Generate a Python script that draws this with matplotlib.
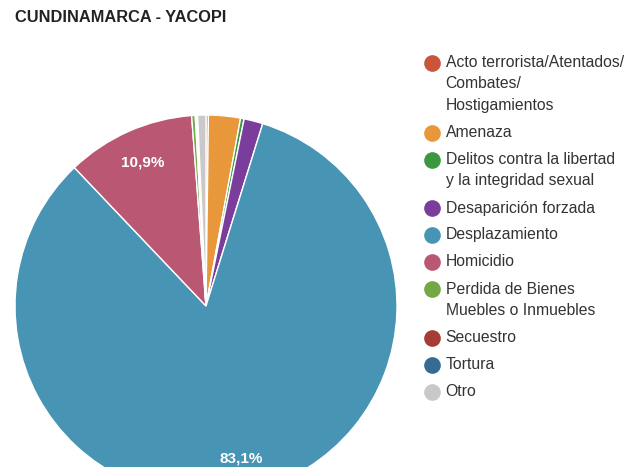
import matplotlib.pyplot as plt

plt.rcParams['font.family'] = ['Liberation Sans', 'DejaVu Sans']

W, H = 632, 467

title = "CUNDINAMARCA - YACOPI"
categories = [
    "Acto terrorista/Atentados/\nCombates/\nHostigamientos",
    "Amenaza",
    "Delitos contra la libertad\ny la integridad sexual",
    "Desaparición forzada",
    "Desplazamiento",
    "Homicidio",
    "Perdida de Bienes\nMuebles o Inmuebles",
    "Secuestro",
    "Tortura",
    "Otro",
]
values = [0.2, 2.7, 0.3, 1.6, 83.1, 10.9, 0.3, 0.1, 0.1, 0.7]
colors = ['#c9553a', '#e8973b', '#3c983f', '#7a3d9c', '#4894b5',
          '#ba5874', '#74a844', '#a53c36', '#366b94', '#c9c9c9']


def fmt(pct):
    if pct < 5:
        return ''
    return f"{pct:.1f}".replace('.', ',') + '%'


def make_plot():
    fig = plt.figure(figsize=(W / 100, H / 100), dpi=100)
    ax = fig.add_axes([0, 0, 1, 1])

    # pie, centre and radius in pixel units (y up)
    ax.pie(values, colors=colors, startangle=90, counterclock=False,
           radius=191, center=(206, H - 306), autopct=fmt, pctdistance=0.82,
           wedgeprops=dict(edgecolor='white', linewidth=1),
           textprops=dict(color='white', fontsize=11, fontweight='bold'))
    ax.set_xlim(0, W)
    ax.set_ylim(0, H)
    ax.set_aspect('equal')
    ax.axis('off')

    ax.text(15, H - 18, title, fontsize=11.8, fontweight='bold',
            color='#222222', ha='left', va='center')

    # legend drawn by hand
    y = 62.5
    for lab, c in zip(categories, colors):
        ax.plot(432, H - y, 'o', markersize=12, color=c, markeredgewidth=0)
        lines = lab.split('\n')
        for i, line in enumerate(lines):
            ax.text(445.5, H - y, line, fontsize=11.3, color='#333333',
                    ha='left', va='center')
            if i < len(lines) - 1:
                y += 21.5
        y += 27

    fig.savefig('out.png', dpi=100)


if __name__ == '__main__':
    make_plot()
